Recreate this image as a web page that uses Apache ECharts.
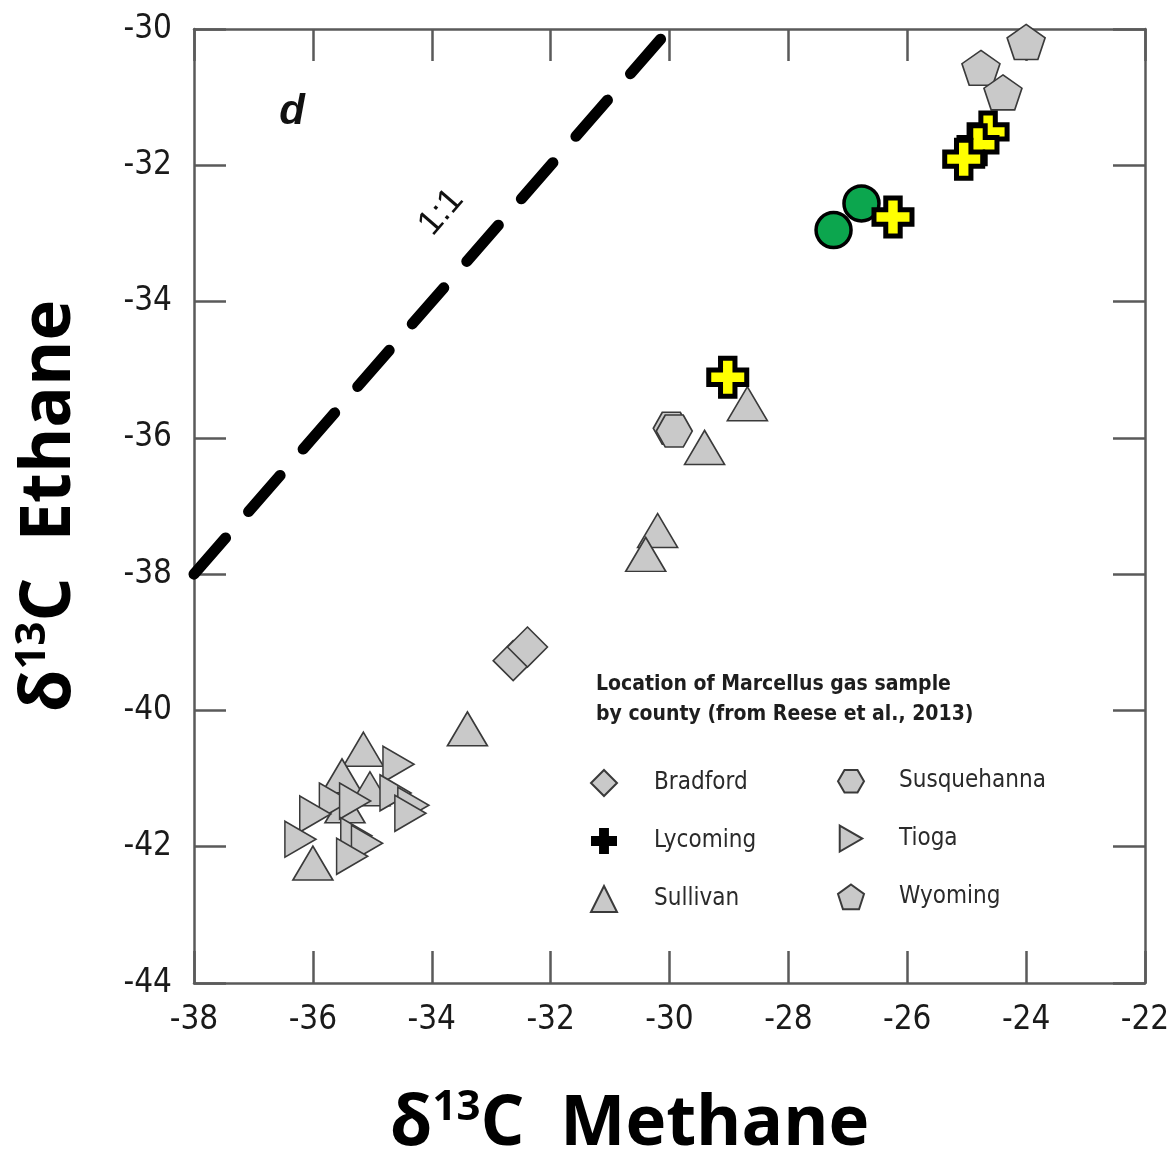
<!DOCTYPE html>
<html>
<head>
<meta charset="utf-8">
<script src="https://cdn.jsdelivr.net/npm/echarts@6/dist/echarts.min.js"></script>
<style>
html,body{margin:0;padding:0;background:#fff;}
#main{width:1169px;height:1155px;}
</style>
</head>
<body>
<div id="main"></div>
<script>
// ---- data (δ13C methane, δ13C ethane) ----
const xTicks = [-38, -36, -34, -32, -30, -28, -26, -24, -22];
const yTicks = [-44, -42, -40, -38, -36, -34, -32, -30];

const bradford = [[-32.63, -39.27], [-32.39, -39.07]];
const lycoming = [[-24.64, -31.51], [-24.81, -31.70], [-25.05, -31.91], [-26.24, -32.76], [-29.02, -35.11]];
const sullivan = [[-28.69, -35.50], [-29.41, -36.14], [-30.20, -37.36], [-30.40, -37.71], [-33.40, -40.27],
  [-35.15, -40.57], [-35.51, -40.96], [-35.04, -41.15], [-35.46, -41.40], [-36.00, -42.24]];
const susquehanna = [[-29.97, -35.86], [-29.92, -35.90]];
const tioga = [[-34.56, -40.79], [-34.61, -41.21], [-34.31, -41.39], [-34.36, -41.51], [-35.63, -41.33],
  [-35.29, -41.33], [-35.96, -41.52], [-36.21, -41.89], [-35.27, -41.84], [-35.09, -41.95], [-35.34, -42.14]];
const wyoming = [[-24.00, -30.19], [-24.76, -30.57], [-24.39, -30.93]];
const highlighted = [[-26.77, -32.56], [-27.24, -32.95]];
const oneToOne = [[-38, -38], [-30.15, -30.15]];
const annotations = [
  { value: [-33.84, -32.69], name: '1:1' },
  { value: [-36.35, -31.23], name: 'd' }
];
const legendTitle = 'Location of Marcellus gas sample\nby county (from Reese et al., 2013)';

// ---- styles ----
const NARROW = '"DejaVu Sans Condensed", "Liberation Sans Narrow", "Liberation Sans", sans-serif';
const TITLEF = '"Open Sans", Lato, "Noto Sans", sans-serif';
const gray = { color: '#c9c9c9', borderColor: '#3a3a3a', borderWidth: 1.6, opacity: 1 };
const AX = '#5a5a5a';

const PENTAGON = 'path://M50,0 L97.6,34.5 L79.4,90.5 L20.6,90.5 L2.4,34.5 Z';
const HEXAGON = 'path://M25,0 L75,0 L100,43.3 L75,86.6 L25,86.6 L0,43.3 Z';
const PLUS = 'path://M31,0 L69,0 L69,31 L100,31 L100,69 L69,69 L69,100 L31,100 L31,69 L0,69 L0,31 L31,31 Z';
const RTRI = 'path://M0,0 L100,57.7 L0,115.4 Z';

function axisBase(extra) {
  return Object.assign({
    type: 'value', interval: 2, scale: false,
    splitLine: { show: false },
    axisLine: { show: true, onZero: false, lineStyle: { color: AX, width: 2.5 } },
    axisTick: { show: true, inside: true, length: 32, lineStyle: { color: AX, width: 2.5 } }
  }, extra);
}
const nameRich = {
  a: { fontFamily: TITLEF, fontWeight: 'bold', fontSize: 69, color: '#000', lineHeight: 80 },
  s: { fontFamily: TITLEF, fontWeight: 'bold', fontSize: 42, color: '#000', verticalAlign: 'top', lineHeight: 80, padding: [2, 0, 0, 0] }
};

const chart = echarts.init(document.getElementById('main'), null, { renderer: 'canvas' });
chart.setOption({
  backgroundColor: '#fff',
  animation: false,
  grid: { left: 194, right: 24, top: 29, bottom: 172, containLabel: false, outerBoundsMode: 'none' },
  title: {
    text: legendTitle, left: 591, top: 665,
    textStyle: { fontFamily: NARROW, fontWeight: 'bold', fontSize: 21, lineHeight: 30, color: '#1e1e1e' }
  },
  legend: [
    {
      orient: 'vertical', left: 585, top: 764, itemGap: 31, itemWidth: 26, itemHeight: 26,
      data: [{ name: 'Bradford' }, { name: 'Lycoming', itemStyle: { color: '#000', borderColor: '#000', borderWidth: 0 } }, { name: 'Sullivan' }],
      textStyle: { fontFamily: NARROW, fontSize: 24, color: '#2a2a2a', padding: [0, 0, 0, 32] },
      selectedMode: false
    },
    {
      orient: 'vertical', left: 832, top: 764, itemGap: 31, itemWidth: 26, itemHeight: 26,
      data: ['Susquehanna', 'Tioga', 'Wyoming'],
      textStyle: { fontFamily: NARROW, fontSize: 24, color: '#2a2a2a', padding: [0, 0, 0, 30] },
      selectedMode: false
    }
  ],
  xAxis: [
    axisBase({
      min: -38, max: -22, position: 'bottom',
      axisLabel: { margin: 21, fontFamily: NARROW, fontSize: 33, color: '#1a1a1a',
        formatter: v => xTicks.includes(v) ? String(v) : '' },
      name: '{a|δ}{s|13}{a|C  Methane}', nameLocation: 'middle', nameGap: 102,
      nameTextStyle: { padding: [0, 80, 0, 0], rich: nameRich }
    }),
    axisBase({ min: -38, max: -22, position: 'top', axisLabel: { show: false } })
  ],
  yAxis: [
    axisBase({
      min: -44, max: -30, position: 'left',
      axisLabel: { margin: 22, fontFamily: NARROW, fontSize: 33, color: '#1a1a1a',
        formatter: v => yTicks.includes(v) ? String(v) : '' },
      name: '{a|δ}{s|13}{a|C  Ethane}', nameLocation: 'middle', nameGap: 104,
      nameTextStyle: { rich: nameRich }
    }),
    axisBase({ min: -44, max: -30, position: 'right', axisLabel: { show: false } })
  ],
  series: [
    {
      name: 'oneToOne', type: 'line', data: oneToOne, symbol: 'none', silent: true, z: 1,
      lineStyle: { color: '#000', width: 11, type: [48, 35], cap: 'round' }
    },
    {
      name: 'annot', type: 'scatter', symbolSize: 1, silent: true,
      itemStyle: { color: 'rgba(0,0,0,0)', opacity: 1 },
      data: [
        { value: annotations[0].value, name: annotations[0].name,
          label: { rotate: 49, fontSize: 35 } },
        { value: annotations[1].value, name: annotations[1].name,
          label: { fontSize: 42, fontWeight: 'bold', fontStyle: 'italic' } }
      ],
      label: {
        show: true, position: 'inside', formatter: '{b}',
        color: '#111', fontFamily: '"Liberation Sans", Arial, sans-serif'
      }
    },
    { name: 'Bradford', type: 'scatter', data: bradford, symbol: 'diamond', symbolSize: 40, itemStyle: gray, z: 3 },
    { name: 'Sullivan', type: 'scatter', data: sullivan, symbol: 'triangle', symbolSize: [40, 34], itemStyle: gray, z: 3 },
    { name: 'Tioga', type: 'scatter', data: tioga, symbol: RTRI, symbolSize: [31, 36], itemStyle: gray, z: 3 },
    { name: 'Susquehanna', type: 'scatter', data: susquehanna, symbol: HEXAGON, symbolSize: [36, 32], itemStyle: gray, z: 3 },
    { name: 'Wyoming', type: 'scatter', data: wyoming, symbol: PENTAGON, symbolSize: [38, 35], itemStyle: gray, z: 3 },
    { name: 'highlight', type: 'scatter', data: highlighted, symbol: 'circle', symbolSize: 35,
      itemStyle: { color: '#0ca64e', borderColor: '#000', borderWidth: 3.5, opacity: 1 }, z: 4 },
    { name: 'Lycoming', type: 'scatter', data: lycoming, symbol: PLUS, symbolSize: 38,
      itemStyle: { color: '#ffff00', borderColor: '#000', borderWidth: 5, opacity: 1 }, z: 5 }
  ]
});
</script>
</body>
</html>
